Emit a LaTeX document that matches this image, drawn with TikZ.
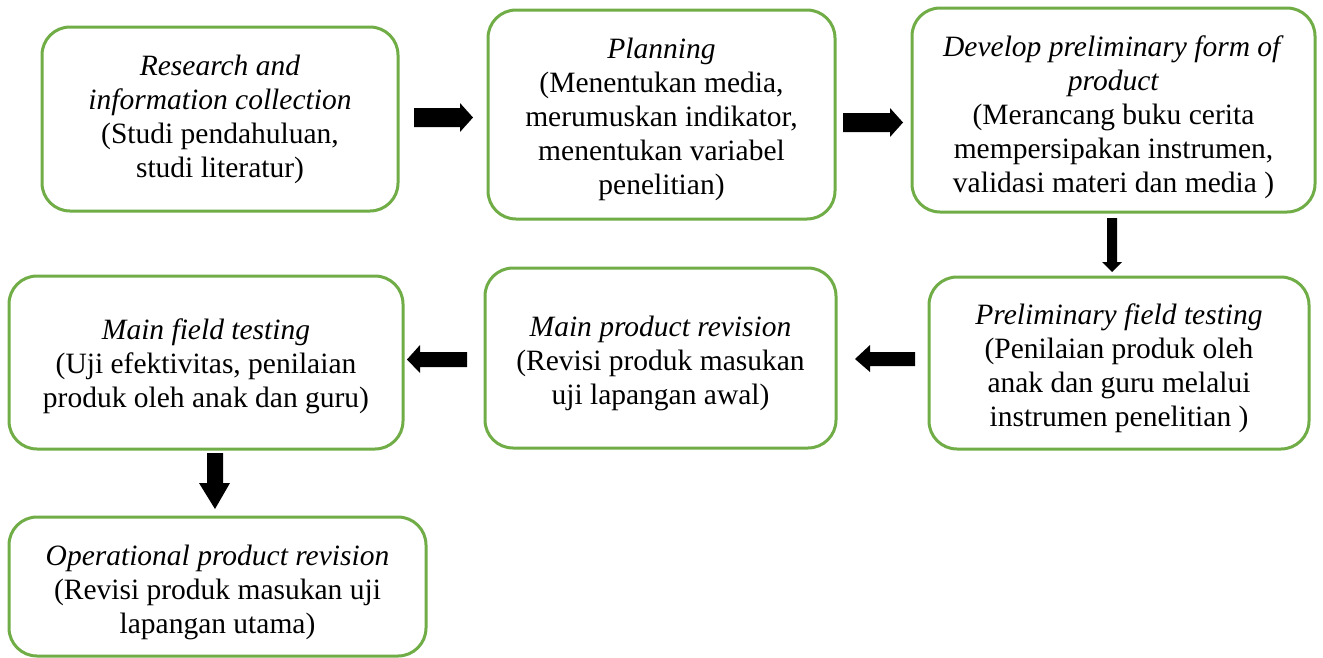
\documentclass[tikz,border=0pt]{standalone}
\usepackage{fontspec}
\setmainfont{Liberation Serif}
\definecolor{boxgreen}{HTML}{70AD47}
\tikzset{
  stagebox/.style={draw=boxgreen, line width=3pt, rounded corners=28pt, fill=white,
    inner sep=0pt},
  stagetext/.style={align=center, inner sep=0pt, font=\fontsize{29.5}{34}\selectfont},
  blockarrow/.style={fill=black, draw=none}
}
\begin{document}
\begin{tikzpicture}[x=1pt,y=-1pt]
\useasboundingbox (0,0) rectangle (1323,657);
\node[stagebox, minimum width=356pt, minimum height=184pt] (b1) at (220,119) {};
\node[stagetext] (t1) at ([yshift=-0.5pt]b1.center)
  {\textit{Research and}\\\textit{information collection}\\(Studi pendahuluan,\\studi literatur)};
\node[stagebox, minimum width=347pt, minimum height=209pt] (b2) at (661.5,114.5) {};
\node[stagetext] (t2) at ([yshift=-4.5pt]b2.center)
  {\textit{Planning}\\(Menentukan media,\\merumuskan indikator,\\menentukan variabel\\penelitian)};
\node[stagebox, minimum width=403pt, minimum height=204pt] (b3) at (1113.5,110) {};
\node[stagetext] (t3) at ([yshift=-7pt]b3.center)
  {\textit{Develop preliminary form of}\\\textit{product}\\(Merancang buku cerita\\mempersipakan instrumen,\\validasi materi dan media )};
\node[stagebox, minimum width=380pt, minimum height=172pt] (b4) at (1119,363) {};
\node[stagetext] (t4) at ([yshift=-5pt]b4.center)
  {\textit{Preliminary field testing}\\(Penilaian produk oleh\\anak dan guru melalui\\instrumen penelitian )};
\node[stagebox, minimum width=351pt, minimum height=180pt] (b5) at (660.5,358) {};
\node[stagetext] (t5) at ([yshift=-5.5pt]b5.center)
  {\textit{Main product revision}\\(Revisi produk masukan\\uji lapangan awal)};
\node[stagebox, minimum width=394pt, minimum height=173pt] (b6) at (206,362.5) {};
\node[stagetext] (t6) at ([yshift=-4pt]b6.center)
  {\textit{Main field testing}\\(Uji efektivitas, penilaian\\produk oleh anak dan guru)};
\node[stagebox, minimum width=417pt, minimum height=139pt] (b7) at (217.5,586.5) {};
\node[stagetext] (t7) at ([yshift=-6pt]b7.center)
  {\textit{Operational product revision}\\(Revisi produk masukan uji\\lapangan utama)};
% block arrows
\fill[blockarrow] (414,108) -- (460,108) -- (460,103) -- (473,117.5) -- (460,132) -- (460,127) -- (414,127) -- cycle;
\fill[blockarrow] (843,113) -- (890,113) -- (890,108) -- (903,122.5) -- (890,137) -- (890,132) -- (843,132) -- cycle;
\fill[blockarrow] (1107,218) -- (1117,218) -- (1117,262) -- (1122,262) -- (1112,272) -- (1102,262) -- (1107,262) -- cycle;
\fill[blockarrow] (915,352) -- (870,352) -- (870,345) -- (855,359) -- (870,372) -- (870,366) -- (915,366) -- cycle;
\fill[blockarrow] (467,352) -- (420,352) -- (420,345) -- (407,359.5) -- (420,373) -- (420,367) -- (467,367) -- cycle;
\fill[blockarrow] (207,453) -- (223,453) -- (223,483) -- (230,483) -- (215,509) -- (199,483) -- (207,483) -- cycle;
\end{tikzpicture}
\end{document}
